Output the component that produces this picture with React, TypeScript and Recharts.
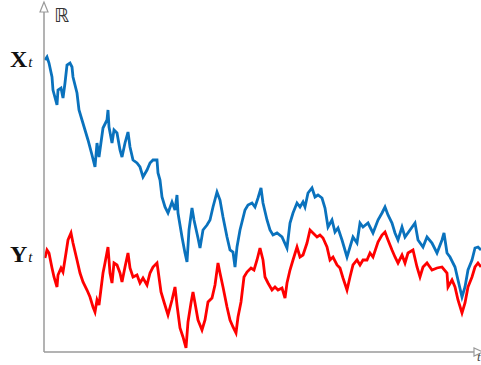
import { LineChart, Line, XAxis, YAxis } from 'recharts';

// time samples and values (t from the origin, value above the t axis)
const blueT = [
  1, 3, 5, 8, 9, 13, 14, 17, 19, 21, 23, 26, 28, 29, 33, 35, 38, 41, 44, 48, 51, 53, 55, 59, 63, 64, 65, 68,
  70, 73, 76, 78, 81, 84, 86, 89, 93, 96, 99, 103, 106, 109, 113, 114, 116, 118, 121, 124, 128, 131, 133,
  134, 138, 141, 143, 145, 148, 150, 154, 156, 159, 163, 166, 169, 173, 176, 179, 183, 186, 189, 191, 193,
  196, 201, 204, 208, 211, 214, 217, 219, 223, 226, 229, 233, 238, 243, 246, 249, 253, 256, 259, 261, 264,
  268, 271, 274, 278, 281, 284, 288, 291, 294, 298, 303, 306, 309, 313, 316, 319, 324, 329, 334, 338, 341,
  344, 348, 351, 354, 358, 361, 366, 371, 374, 379, 383, 388, 393, 398, 400, 403, 406, 411, 414, 418, 421,
  424, 428, 431, 434, 437,
];
const blueV = [
  292, 295, 289, 275, 262, 247, 262, 264, 254, 269, 287, 289, 285, 275, 259, 242, 232, 222, 212, 197, 185,
  209, 195, 224, 232, 242, 225, 209, 222, 219, 202, 195, 209, 220, 205, 192, 189, 185, 175, 182, 189, 192,
  192, 179, 172, 155, 145, 139, 150, 142, 157, 139, 115, 99, 90, 122, 144, 132, 114, 104, 122, 127, 132,
  145, 160, 152, 135, 115, 102, 100, 85, 105, 122, 142, 147, 149, 145, 154, 164, 149, 132, 122, 117, 119,
  115, 104, 129, 139, 149, 145, 150, 145, 159, 164, 155, 157, 154, 144, 125, 132, 120, 124, 112, 95, 105,
  115, 109, 129, 125, 129, 119, 132, 139, 145, 137, 129, 119, 112, 125, 115, 122, 129, 112, 105, 115, 109,
  99, 112, 119, 99, 95, 85, 72, 55, 65, 82, 92, 104, 105, 102,
];

const redT = [
  1, 3, 5, 8, 10, 13, 14, 17, 19, 22, 24, 27, 29, 33, 36, 39, 43, 46, 49, 51, 53, 55, 59, 61, 64, 66, 68, 70,
  73, 76, 78, 81, 84, 86, 89, 93, 96, 99, 103, 106, 109, 113, 114, 117, 120, 124, 128, 131, 133, 136, 139,
  142, 144, 147, 149, 151, 154, 158, 161, 164, 168, 171, 174, 176, 179, 183, 186, 189, 192, 194, 197, 200,
  203, 207, 210, 213, 216, 219, 221, 224, 228, 231, 234, 238, 241, 243, 246, 249, 253, 256, 259, 263, 266,
  269, 273, 276, 279, 283, 286, 289, 293, 296, 299, 303, 306, 309, 313, 316, 319, 323, 326, 329, 334, 338,
  341, 344, 348, 351, 354, 358, 361, 364, 369, 373, 376, 379, 383, 388, 393, 398, 403, 404, 408, 411, 414,
  418, 421, 424, 428, 431, 434, 437,
];
const redV = [
  94, 102, 99, 84, 75, 65, 77, 84, 80, 99, 112, 119, 109, 92, 79, 70, 62, 55, 45, 40, 52, 47, 79, 89, 105,
  79, 69, 89, 87, 79, 70, 85, 99, 84, 75, 77, 69, 74, 67, 79, 85, 89, 82, 60, 50, 37, 52, 65, 47, 24, 15, 4,
  30, 49, 60, 49, 32, 22, 32, 50, 54, 67, 89, 79, 65, 45, 32, 25, 19, 35, 50, 75, 80, 84, 82, 92, 104, 92,
  75, 69, 62, 65, 62, 64, 54, 69, 82, 92, 105, 95, 97, 109, 122, 119, 115, 117, 114, 105, 92, 95, 87, 84,
  74, 62, 75, 87, 92, 87, 92, 92, 99, 95, 110, 117, 120, 112, 102, 95, 89, 97, 89, 99, 102, 85, 75, 85, 89,
  82, 84, 85, 79, 65, 72, 65, 52, 39, 49, 65, 75, 85, 89, 85,
];

const toPoints = (ts: number[], vs: number[]) => ts.map((t, i) => ({ t, v: vs[i] }));

const axisColor = '#9a9a9a';
const serif = '"Liberation Serif", "DejaVu Serif", serif';

const Label = ({ top, name }: { top: number; name: string }) => (
  <div
    style={{
      position: 'absolute',
      left: 10,
      top,
      fontFamily: serif,
      fontSize: 24,
      fontWeight: 'bold',
      color: '#111',
      lineHeight: 1,
    }}
  >
    {name}
    <span style={{ fontStyle: 'italic', fontWeight: 'normal', fontSize: 15, marginLeft: 1 }}>t</span>
  </div>
);

export default function App() {
  const blue = toPoints(blueT, blueV);
  const red = toPoints(redT, redV);
  return (
    <div style={{ position: 'absolute', left: 0, top: 0, width: 481, height: 365, background: '#fff' }}>
      <LineChart width={481} height={365} margin={{ top: 8, right: 0, bottom: 12, left: 43 }}>
        <XAxis
          type='number'
          dataKey='t'
          domain={[0, 437]}
          height={1}
          tick={false}
          tickLine={false}
          axisLine={{ stroke: axisColor, strokeWidth: 1.5 }}
        />
        <YAxis
          type='number'
          domain={[0, 344]}
          width={1}
          tick={false}
          tickLine={false}
          axisLine={{ stroke: axisColor, strokeWidth: 1.5 }}
        />
        <Line
          data={blue}
          dataKey='v'
          type='linear'
          stroke='#0a72bd'
          strokeWidth={2.8}
          dot={false}
          isAnimationActive={false}
        />
        <Line
          data={red}
          dataKey='v'
          type='linear'
          stroke='#ff0000'
          strokeWidth={2.8}
          dot={false}
          isAnimationActive={false}
        />
      </LineChart>
      <svg width={481} height={365} style={{ position: 'absolute', left: 0, top: 0, pointerEvents: 'none' }}>
        <polygon points='44,2 40,12 48,12' fill='#fff' stroke={axisColor} strokeWidth={1.2} />
        <polygon points='483,352 474,348 474,356' fill='#fff' stroke={axisColor} strokeWidth={1.2} />
        <text x={54} y={22} fontFamily='"DejaVu Sans", sans-serif' fontSize={19} fill='#333'>
          ℝ
        </text>
        <text x={477} y={361} fontFamily={serif} fontStyle='italic' fontSize={13} fill='#444'>
          t
        </text>
      </svg>
      <Label top={47} name='X' />
      <Label top={242} name='Y' />
    </div>
  );
}
